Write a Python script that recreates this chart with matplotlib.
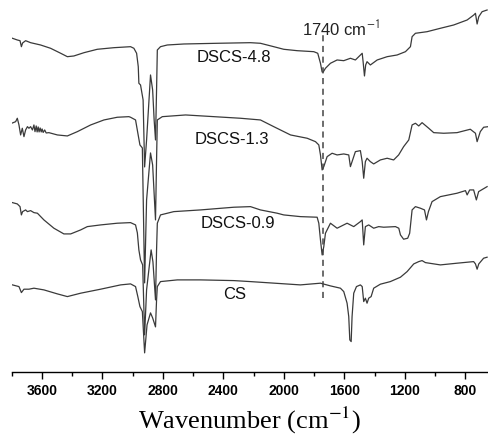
import matplotlib
matplotlib.use("Agg")
import matplotlib.pyplot as plt
from matplotlib.ticker import MultipleLocator

plt.rcParams["mathtext.fontset"] = "stix"

# ---- data: wavenumber (cm-1) and transmittance (arbitrary units, offset) ----
wn_dscs48 = [3795, 3763, 3745, 3736, 3728, 3708, 3675, 3609, 3543, 3476, 3432, 3389, 3322, 3234,
             3124, 3014, 2992, 2974, 2963, 2959, 2948, 2931, 2921, 2908, 2882, 2868, 2858, 2849,
             2842, 2837, 2816, 2771, 2661, 2441, 2221, 2155, 2067, 2001, 1912, 1802, 1776, 1758,
             1747, 1740, 1725, 1692, 1648, 1604, 1560, 1527, 1482, 1476, 1467, 1459, 1450, 1428,
             1383, 1317, 1251, 1196, 1163, 1152, 1130, 1053, 965, 877, 788, 744, 733, 722, 711,
             689, 656]
t_dscs48 = [333.7, 332, 331.3, 325.3, 329, 331.3, 329.3, 327, 323.7, 318.7, 315.3, 316, 319.3, 322.7,
            324.3, 325.3, 323.7, 318.7, 305.3, 288.7, 287, 272, 205, 232, 297, 282, 252, 232,
            282, 322, 325.3, 327, 328, 328.7, 329.3, 328.7, 325.3, 322.7, 321.3, 320.3, 318.7, 308.7,
            300, 300, 303.7, 308.7, 312, 311.3, 313.7, 312, 318.7, 310.3, 296, 307, 310.3, 307,
            312, 315.3, 317, 320.3, 325.3, 335.3, 338.7, 340.3, 343.7, 347, 352, 357, 358.7, 348, 355.3,
            360.3, 362]

wn_dscs13 = [3795, 3774, 3763, 3752, 3741, 3730, 3719, 3708, 3696, 3686, 3675, 3663, 3653, 3646,
             3638, 3632, 3625, 3619, 3612, 3605, 3599, 3592, 3582, 3572, 3554, 3498, 3432, 3366,
             3278, 3190, 3102, 3025, 3014, 2981, 2966, 2952, 2936, 2921, 2908, 2882, 2868, 2849,
             2842, 2837, 2804, 2650, 2287, 2155, 2067, 1956, 1846, 1791, 1769, 1758, 1747, 1736,
             1714, 1681, 1648, 1604, 1571, 1560, 1549, 1527, 1494, 1482, 1472, 1461, 1450, 1428,
             1406, 1362, 1317, 1274, 1241, 1208, 1174, 1152, 1130, 1108, 1086, 1042, 1009, 943,
             855, 767, 733, 722, 701, 679, 648]
t_dscs13 = [249, 250.3, 253.7, 247, 237, 243.7, 235.3, 242, 245.3, 243.7, 245.3, 242, 247, 240.3,
            246, 240, 245, 240, 244, 240, 243, 239.5, 242, 239, 239.3, 237, 236, 240.3,
            247, 252, 254.7, 255.3, 254.7, 252, 239, 227, 224, 89, 172, 219, 207, 152,
            212, 252, 255.3, 257, 253.7, 252, 245.3, 237, 233.7, 230.3, 227, 217, 202, 205.3,
            215.3, 218.7, 217, 218, 217, 205.3, 210.3, 220.3, 221.3, 210.3, 193.7, 210.3, 213.7, 210.3,
            208, 212, 213.7, 212, 217, 225.3, 232, 247, 248.7, 246, 249.3, 243.7, 239.3, 238.7,
            239.3, 242.7, 238.7, 230.3, 240.3, 244.7, 245.3]

wn_dscs09 = [3795, 3763, 3745, 3736, 3728, 3708, 3696, 3675, 3653, 3630, 3587, 3521, 3455, 3410,
             3344, 3300, 3212, 3102, 3014, 2981, 2969, 2959, 2948, 2934, 2921, 2908, 2878, 2866,
             2849, 2842, 2837, 2816, 2728, 2551, 2331, 2221, 2155, 2044, 2001, 1891, 1780, 1769,
             1758, 1747, 1736, 1725, 1692, 1648, 1582, 1538, 1494, 1482, 1472, 1461, 1439, 1406,
             1373, 1340, 1262, 1240, 1229, 1208, 1181, 1168, 1152, 1130, 1097, 1070, 1057, 1044,
             1020, 965, 855, 799, 788, 771, 745, 727, 712, 656]
t_dscs09 = [169.3, 168, 165.3, 157, 160.3, 162, 160.3, 161.3, 159.3, 158.7, 152, 143.7, 138, 138,
            142, 145.3, 147, 148.7, 149.3, 147, 139, 122, 112, 107, 37, 82, 122, 110,
            72, 122, 148.7, 157, 160.3, 162, 164.7, 165.3, 162, 158.7, 157, 155.3, 154.7, 148.7,
            132, 117, 125.3, 138.7, 148.7, 143.7, 148.7, 145.3, 150.3, 152, 127, 145.3, 147, 143.7,
            145.3, 144.7, 145.3, 143.7, 137, 132.7, 133.7, 138.7, 162, 165.3, 163.7, 162, 152, 160.3,
            170.3, 175.3, 178.7, 181.3, 177, 182, 182, 172, 180.3, 185.3]

wn_cs = [3795, 3752, 3736, 3719, 3686, 3653, 3587, 3498, 3432, 3344, 3212, 3080, 3014, 2981,
         2966, 2952, 2936, 2921, 2905, 2882, 2868, 2849, 2842, 2837, 2816, 2705, 2551, 2331,
         2221, 1891, 1758, 1692, 1626, 1604, 1582, 1571, 1564, 1555, 1549, 1538, 1520, 1494,
         1482, 1472, 1461, 1450, 1439, 1423, 1406, 1362, 1296, 1229, 1185, 1141, 1108, 1086,
         1064, 965, 855, 745, 733, 722, 711, 679, 656]
t_cs = [87, 85.3, 79.3, 82.7, 82.7, 83.7, 82, 78, 75.3, 78.7, 82.7, 87, 88, 85.3,
        75.3, 65.3, 60.3, 19, 47, 59, 54, 45, 72, 85.3, 90.3, 92, 92, 91.3,
        90.3, 87, 88.7, 86, 83.7, 80.3, 68.7, 55.3, 32, 30.3, 55.3, 78.7, 85.3, 87,
        85.3, 70.3, 73.7, 68.7, 73.7, 75.3, 83.7, 87.7, 90.3, 94.7, 100.3, 108, 110.3, 111.3,
        109.3, 107, 108.7, 110.3, 108, 102.7, 108, 113.7, 114.7]

series_names = ["DSCS-4.8", "DSCS-1.3", "DSCS-0.9", "CS"]
marker_wn = 1740
marker_label = "1740 cm$^{\\mathsf{-1}}$"
x_ticks = [3600, 3200, 2800, 2400, 2000, 1600, 1200, 800]

# ---- figure ----
fig = plt.figure(figsize=(4.88, 4.38), dpi=100)
ax = fig.add_axes([0.024, 0.151, 0.976, 0.849])

line_kw = dict(color="#3a3a3a", lw=0.9)
ax.plot(wn_dscs48, t_dscs48, **line_kw)
ax.plot(wn_dscs13, t_dscs13, **line_kw)
ax.plot(wn_dscs09, t_dscs09, **line_kw)
ax.plot(wn_cs, t_cs, **line_kw)

ax.vlines(marker_wn, 74, 337, colors="#444444", linestyles=(0, (4, 3)), lw=1.1)
ax.text(1878, 343, marker_label, ha="left", va="center", fontsize=12,
        family="Liberation Sans", color="#222222")

label_pos = [(2333, 314.5), (2346, 232), (2303, 148), (2323, 77)]
for name, (lx, ly) in zip(series_names, label_pos):
    ax.text(lx, ly, name, ha="center", va="center", fontsize=12,
            family="Liberation Sans", color="#111111")

ax.set_xlim(3800, 650)
ax.set_ylim(0, 372)
for s in ["left", "right", "top"]:
    ax.spines[s].set_visible(False)
ax.spines["bottom"].set_linewidth(1.0)
ax.set_yticks([])
ax.set_xticks(x_ticks)
ax.xaxis.set_minor_locator(MultipleLocator(200))
ax.tick_params(axis="x", which="major", direction="out", length=5, width=1, pad=4)
ax.tick_params(axis="x", which="minor", direction="out", length=3, width=1)
for lab in ax.get_xticklabels():
    lab.set_fontfamily("Liberation Sans")
    lab.set_fontweight("bold")
    lab.set_fontsize(10)

ax.set_xlabel("Wavenumber (cm$^{-1}$)", family="Liberation Serif", fontsize=19, labelpad=5)

fig.savefig("out.png", dpi=100)
